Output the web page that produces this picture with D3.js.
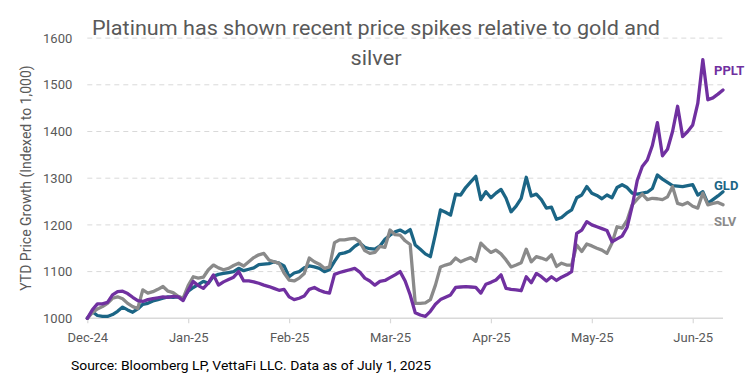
<!DOCTYPE html>
<html>
<head>
<meta charset="utf-8">
<script src="https://cdn.jsdelivr.net/npm/d3@7/dist/d3.min.js"></script>
<style>
  html, body { margin: 0; padding: 0; background: #ffffff; }
  svg { display: block; }
</style>
</head>
<body>
<svg id="chart" width="750" height="375"></svg>
<script>
// ---- data ----
const tickLabels = ["Dec-24", "Jan-25", "Feb-25", "Mar-25", "Apr-25", "May-25", "Jun-25"];
const tickEvery = 20; // one label every 20 trading days
const yTicks = [1000, 1100, 1200, 1300, 1400, 1500, 1600];

const pplt = [1000,1018,1031,1031,1034,1050,1057,1058,1053,1045,
  1038,1036,1040,1042,1044,1046,1045,1047,1046,1038,
  1060,1079,1070,1064,1076,1093,1071,1078,1083,1088,
  1100,1080,1080,1078,1075,1071,1068,1064,1060,1062,
  1046,1040,1043,1048,1062,1066,1060,1056,1054,1094,
  1098,1101,1104,1107,1099,1086,1080,1071,1079,1081,
  1087,1093,1100,1080,1050,1012,1007,1004,1015,1030,
  1040,1045,1050,1066,1067,1068,1067,1066,1054,1073,
  1077,1082,1093,1064,1062,1061,1059,1089,1076,1096,
  1089,1080,1089,1081,1088,1093,1100,1182,1189,1207,
  1200,1196,1192,1188,1164,1170,1176,1195,1240,1295,
  1325,1339,1370,1419,1348,1362,1400,1454,1389,1400,
  1414,1460,1554,1468,1472,1480,1489];

const gld = [1000,1014,1006,1004,1004,1008,1015,1024,1018,1013,
  1020,1030,1032,1037,1040,1043,1046,1045,1046,1043,
  1058,1066,1072,1079,1075,1090,1094,1096,1098,1100,
  1107,1102,1105,1108,1115,1116,1117,1121,1118,1112,
  1089,1097,1100,1108,1112,1110,1107,1100,1104,1122,
  1138,1140,1144,1154,1161,1152,1149,1148,1155,1169,
  1178,1185,1189,1183,1190,1157,1148,1138,1132,1180,
  1232,1227,1221,1266,1264,1280,1292,1304,1254,1271,
  1258,1268,1276,1257,1228,1240,1257,1302,1262,1266,
  1254,1236,1238,1212,1216,1225,1232,1258,1264,1282,
  1268,1263,1256,1264,1258,1280,1286,1280,1268,1266,
  1268,1270,1278,1307,1298,1291,1284,1283,1282,1284,
  1286,1264,1271,1246,1254,1262,1271];

const slv = [1000,1012,1020,1025,1032,1043,1046,1042,1032,1025,
  1021,1061,1054,1057,1062,1068,1058,1055,1047,1043,
  1070,1089,1086,1088,1104,1114,1108,1104,1107,1113,
  1118,1112,1121,1130,1136,1139,1125,1121,1118,1097,
  1082,1080,1086,1096,1129,1121,1116,1107,1110,1162,
  1168,1168,1170,1171,1164,1145,1139,1141,1154,1152,
  1189,1179,1178,1166,1158,1032,1032,1033,1040,1071,
  1110,1114,1117,1129,1121,1126,1130,1122,1161,1150,
  1141,1146,1138,1125,1110,1114,1119,1148,1121,1132,
  1129,1125,1136,1111,1118,1114,1114,1157,1143,1159,
  1155,1150,1146,1139,1161,1196,1193,1210,1243,1255,
  1266,1254,1257,1256,1254,1260,1282,1246,1243,1248,
  1240,1236,1268,1243,1246,1248,1243];

const seriesNames = ["GLD", "SLV", "PPLT"];
const seriesColors = ["#1b6585", "#8a8a8a", "#7030a0"];
const seriesValues = [gld, slv, pplt];
const labelValues = [1285, 1207, 1530];

(function draw() {
  const svg = d3.select("#chart");
  const pLeft = 87.3, pRight = 723, pTop = 38.1, pBottom = 318.3;
  const n = pplt.length;

  const x = d3.scaleLinear().domain([0, n - 1]).range([pLeft, pRight]);
  const y = d3.scaleLinear().domain([1000, 1600]).range([pBottom, pTop]);

  const font = "Roboto, 'Open Sans', sans-serif";

  // gridlines
  svg.append("g")
    .selectAll("line")
    .data(yTicks.filter(d => d > 1000))
    .join("line")
    .attr("x1", pLeft).attr("x2", pRight)
    .attr("y1", d => y(d)).attr("y2", d => y(d))
    .attr("stroke", "#d9d9d9")
    .attr("stroke-width", 1)
    .attr("stroke-dasharray", "5,4");

  // y axis labels
  const yAxis = d3.axisLeft(y).tickValues(yTicks).tickSize(0).tickPadding(0).tickFormat(d3.format("d"));
  const gy = svg.append("g").attr("transform", `translate(${pLeft - 15},0)`).call(yAxis);
  gy.select(".domain").remove();
  gy.selectAll("text")
    .attr("font-family", font)
    .attr("font-size", 13)
    .attr("fill", "#595959");

  // x axis
  const tickIdx = tickLabels.map((_, i) => i * tickEvery);
  const xAxis = d3.axisBottom(x)
    .tickValues(tickIdx)
    .tickSize(5)
    .tickPadding(9)
    .tickFormat((d, i) => tickLabels[i]);
  const gx = svg.append("g").attr("transform", `translate(0,${pBottom})`).call(xAxis);
  gx.select(".domain").attr("stroke", "#d9d9d9").attr("stroke-width", 1.5)
    .attr("d", `M${pLeft},0H${pRight}`);
  gx.selectAll(".tick line").attr("stroke", "#d9d9d9").attr("stroke-width", 1.2);
  gx.selectAll("text")
    .attr("font-family", font)
    .attr("font-size", 13)
    .attr("fill", "#595959");

  // lines
  const line = d3.line().x((d, i) => x(i)).y(d => y(d)).curve(d3.curveLinear);
  svg.append("g")
    .selectAll("path")
    .data(seriesValues)
    .join("path")
    .attr("d", d => line(d))
    .attr("fill", "none")
    .attr("stroke", (d, i) => seriesColors[i])
    .attr("stroke-width", 3.3)
    .attr("stroke-linejoin", "round")
    .attr("stroke-linecap", "round");

  // end labels
  svg.append("g")
    .selectAll("text")
    .data(seriesNames)
    .join("text")
    .attr("x", pRight - 9)
    .attr("y", (d, i) => y(labelValues[i]))
    .attr("dy", "0.35em")
    .attr("font-family", font)
    .attr("font-weight", 700)
    .attr("font-size", 13)
    .attr("fill", (d, i) => seriesColors[i])
    .text(d => d);

  // y axis title
  svg.append("text")
    .attr("transform", "translate(31,178) rotate(-90)")
    .attr("text-anchor", "middle")
    .attr("font-family", font)
    .attr("font-size", 14)
    .attr("fill", "#595959")
    .text("YTD Price Growth (Indexed to 1,000)");

  // title
  svg.append("text")
    .attr("x", 376).attr("y", 35)
    .attr("text-anchor", "middle")
    .attr("font-family", font)
    .attr("font-size", 21)
    .attr("fill", "#595959")
    .attr("textLength", 568)
    .attr("lengthAdjust", "spacingAndGlyphs")
    .text("Platinum has shown recent price spikes relative to gold and");
  svg.append("text")
    .attr("x", 376).attr("y", 65)
    .attr("text-anchor", "middle")
    .attr("font-family", font)
    .attr("font-size", 21)
    .attr("fill", "#595959")
    .attr("textLength", 51)
    .attr("lengthAdjust", "spacingAndGlyphs")
    .text("silver");

  // source
  svg.append("text")
    .attr("x", 71).attr("y", 370)
    .attr("font-family", font)
    .attr("font-size", 13.5)
    .attr("fill", "#000000")
    .attr("textLength", 360)
    .attr("lengthAdjust", "spacingAndGlyphs")
    .text("Source: Bloomberg LP, VettaFi LLC. Data as of July 1, 2025");
})();
</script>
</body>
</html>
